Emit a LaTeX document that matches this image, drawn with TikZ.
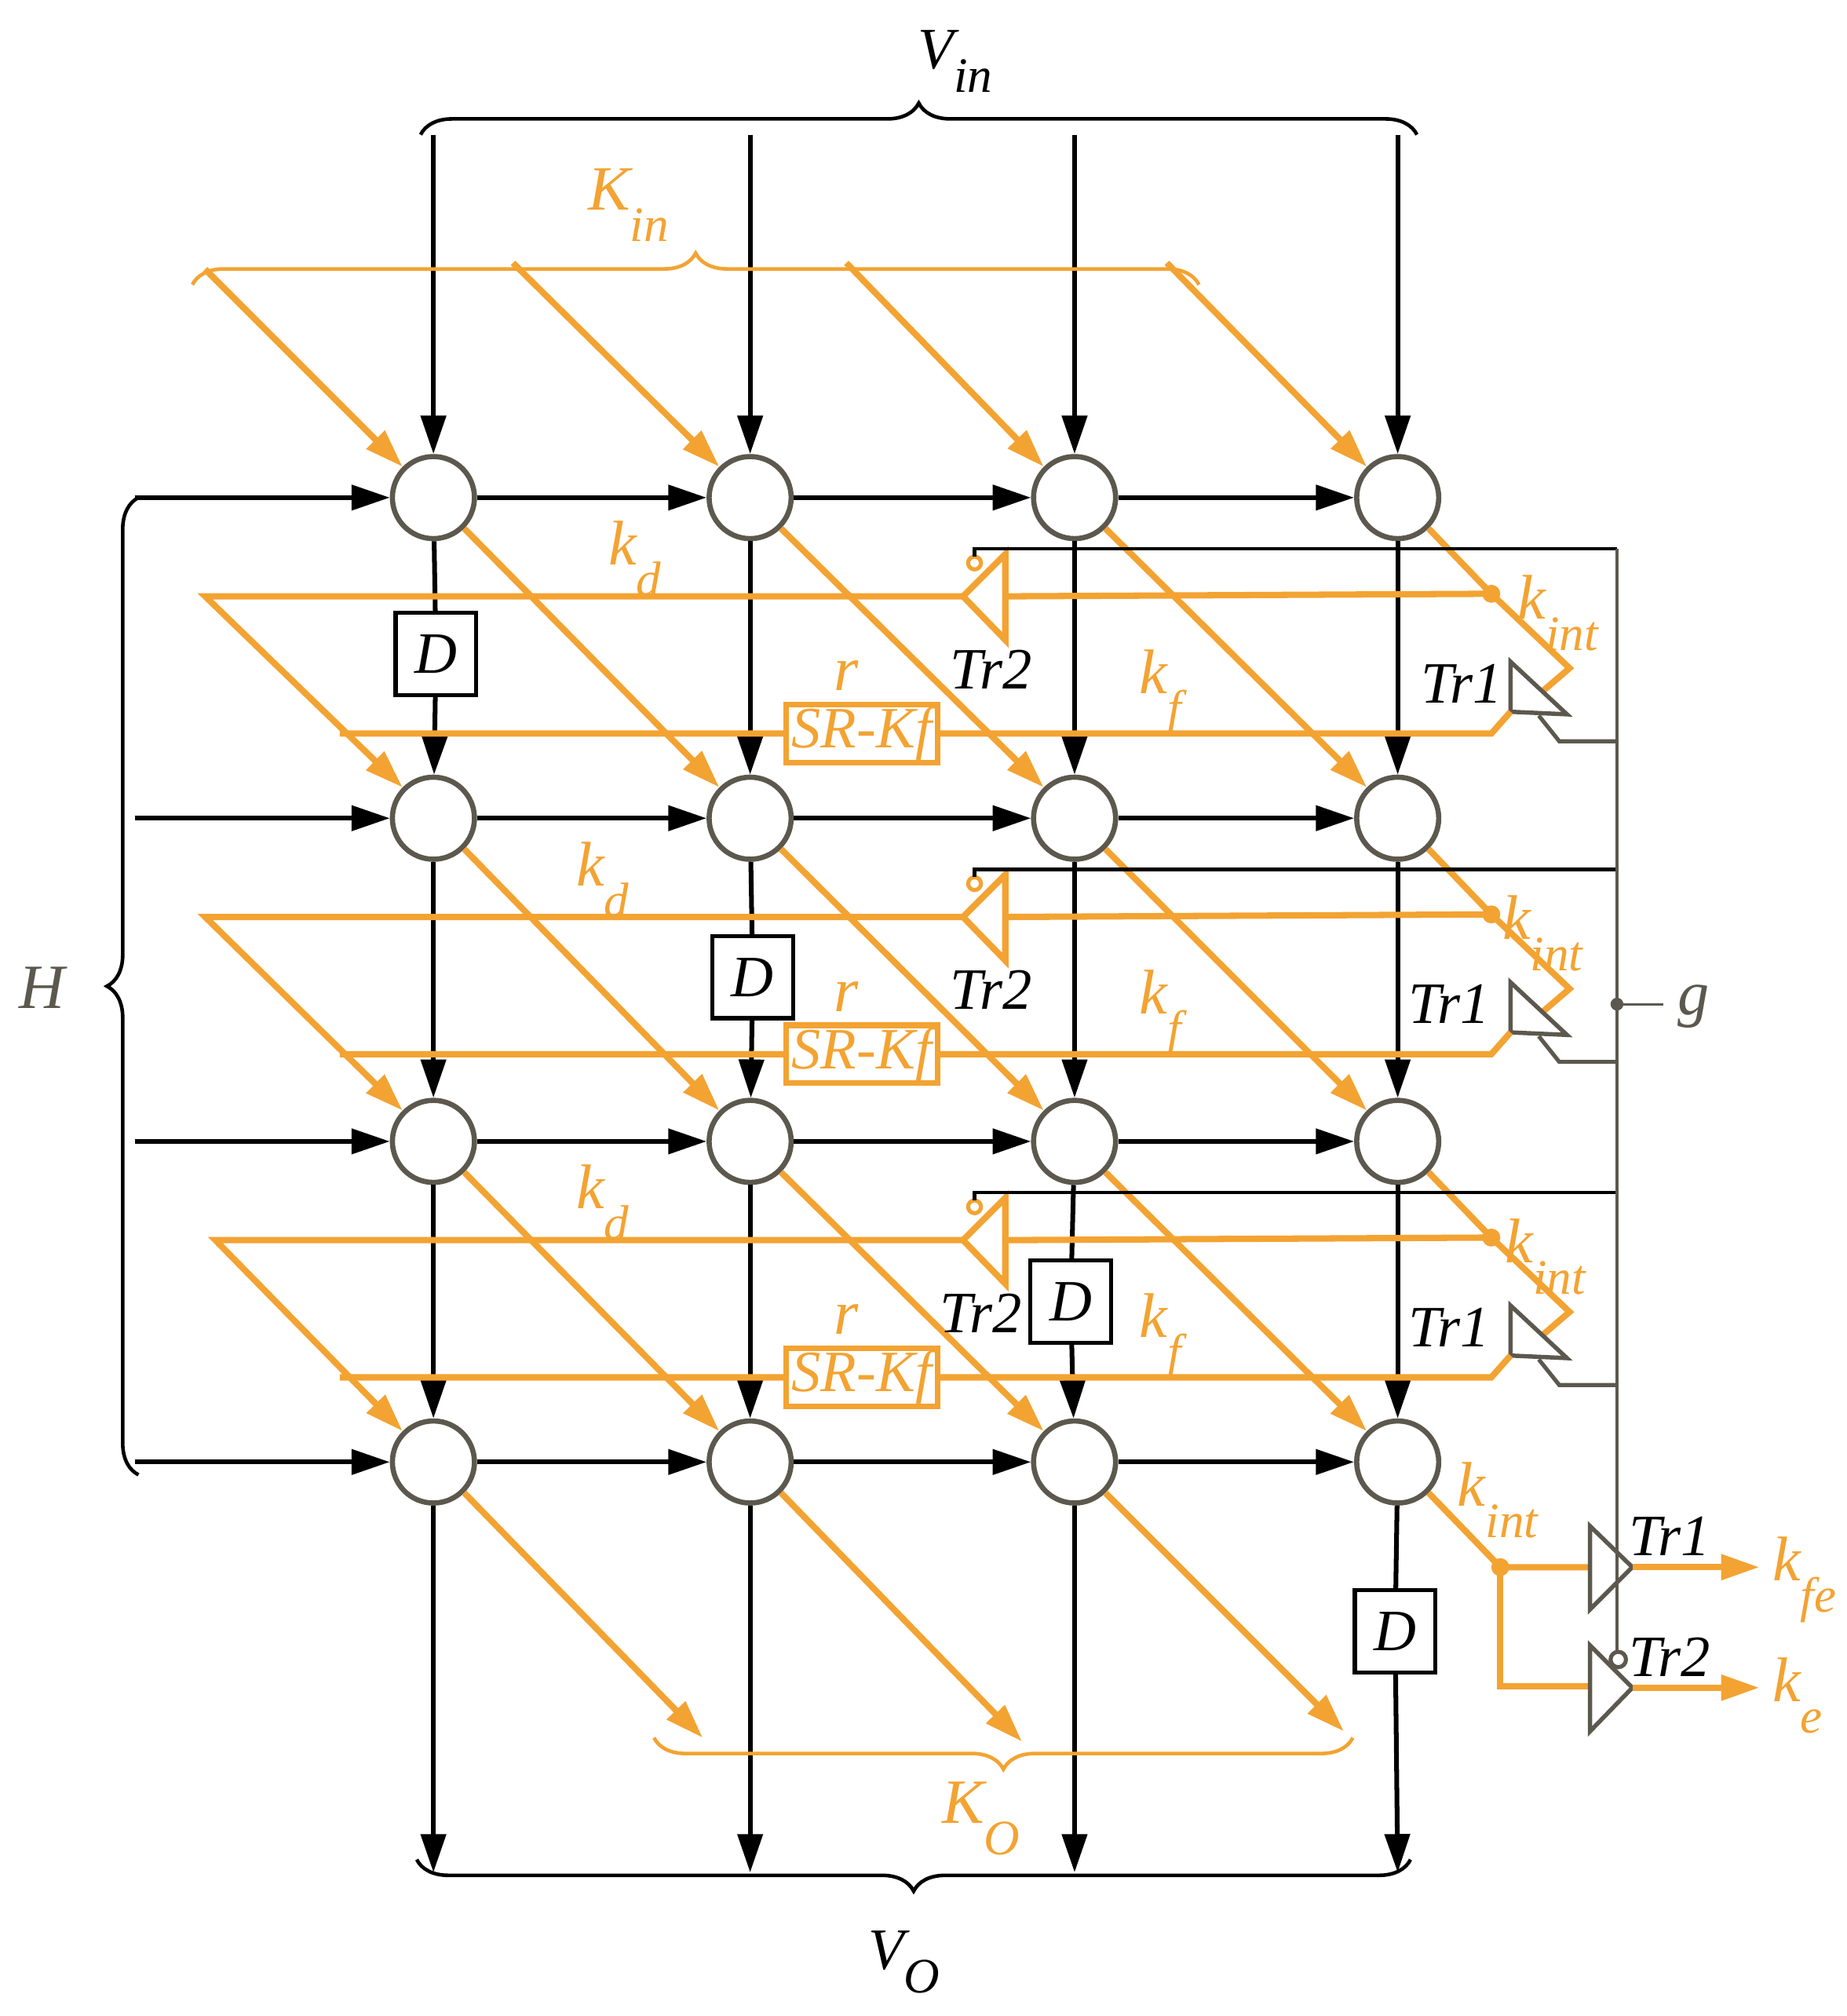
\documentclass[tikz,border=0pt]{standalone}
\usepackage{fontspec}
\setmainfont{Liberation Serif}
\usetikzlibrary{arrows.meta,decorations.pathreplacing}
\definecolor{org}{RGB}{243,163,50}
\definecolor{gry}{RGB}{92,88,78}
\newcommand{\lab}[2]{\itshape #1\raisebox{-0.5em}{\fontsize{22}{22}\selectfont #2}}
\begin{document}
\begin{tikzpicture}[x=0.02cm,y=-0.02cm,
  circ/.style={circle,draw=gry,line width=2.3pt,minimum size=1.28cm,inner sep=0pt},
  blk/.style={line width=2.1pt,black},
  org line/.style={line width=2.8pt,org},
  arr/.style={-{Triangle[length=17pt,width=11pt]}},
  dbox/.style={draw,line width=1.8pt,fill=white,minimum width=1.26cm,minimum height=1.28cm,inner sep=0pt,font=\fontsize{26}{30}\selectfont\itshape},
  srbox/.style={draw=org,line width=2.5pt,fill=white,text=org,minimum width=2.36cm,minimum height=0.9cm,inner sep=0pt,font=\fontsize{26}{30}\selectfont\itshape},
  tri/.style={draw=gry,line width=1.9pt,line join=miter},
  olab/.style={text=org,font=\fontsize{28}{30}\selectfont,inner sep=0pt},
  blab/.style={text=black,font=\fontsize{26}{30}\selectfont\itshape,inner sep=0pt},
  glab/.style={text=gry,font=\fontsize{28}{30}\selectfont,inner sep=0pt},
  ctl/.style={gry,line width=1.1pt},
  brc/.style={decorate,decoration={brace,amplitude=14pt},line width=1.6pt}]
\useasboundingbox (0,0) rectangle (1440,1572);
\def\xa{338}\def\xb{585}\def\xc{838}\def\xd{1090}
% circles
\foreach \r/\y in {1/388,2/638,3/890,4/1140}{
  \foreach \c/\x in {1/\xa,2/\xb,3/\xc,4/\xd}{
    \node[circ] (n\r\c) at (\x,\y) {};
  }
  \coordinate (h\r) at (105,\y);
  \draw[blk,arr] (h\r) -- (n\r1);
  \draw[blk,arr] (n\r1) -- (n\r2);
  \draw[blk,arr] (n\r2) -- (n\r3);
  \draw[blk,arr] (n\r3) -- (n\r4);
}
% D boxes
\node[dbox] (D1) at (340,510) {D};
\node[dbox] (D2) at (587,762) {D};
\node[dbox] (D3) at (835,1015) {D};
\node[dbox] (D4) at (1088,1272) {D};
% vertical inputs/outputs
\foreach \c/\x in {1/\xa,2/\xb,3/\xc,4/\xd}{
  \coordinate (vi\c) at (\x,105);
  \coordinate (vo\c) at (\x,1460);
  \draw[blk,arr] (vi\c) -- (n1\c);
}
\draw[blk] (n11) -- (D1); \draw[blk,arr] (D1) -- (n21);
\draw[blk,arr] (n12) -- (n22);
\draw[blk,arr] (n13) -- (n23);
\draw[blk,arr] (n14) -- (n24);
\draw[blk,arr] (n21) -- (n31);
\draw[blk] (n22) -- (D2); \draw[blk,arr] (D2) -- (n32);
\draw[blk,arr] (n23) -- (n33);
\draw[blk,arr] (n24) -- (n34);
\draw[blk,arr] (n31) -- (n41);
\draw[blk,arr] (n32) -- (n42);
\draw[blk] (n33) -- (D3); \draw[blk,arr] (D3) -- (n43);
\draw[blk,arr] (n34) -- (n44);
\draw[blk,arr] (n41) -- (vo1);
\draw[blk,arr] (n42) -- (vo2);
\draw[blk,arr] (n43) -- (vo3);
\draw[blk] (n44) -- (D4); \draw[blk,arr] (D4) -- (vo4);
% orange input diagonals
\coordinate (ki1) at (160,210); \coordinate (ki2) at (400,205);
\coordinate (ki3) at (660,205); \coordinate (ki4) at (910,205);
\foreach \c in {1,2,3,4}{\draw[org line,arr] (ki\c) -- (n1\c.135);}
% diagonals between circles
\foreach \r/\rn in {1/2,2/3,3/4}{
  \foreach \c/\cn in {1/2,2/3,3/4}{
    \draw[org line,arr] (n\r\c.-45) -- (n\rn\cn.135);
  }
}
% bottom outputs
\coordinate (ko1) at (548,1355); \coordinate (ko2) at (797,1358); \coordinate (ko3) at (1048,1350);
\draw[org line,arr] (n41.-45) -- (ko1);
\draw[org line,arr] (n42.-45) -- (ko2);
\draw[org line,arr] (n43.-45) -- (ko3);
% feedback rows
\foreach \r/\rn/\y/\xs/\kdx/\kix/\tx/\ttx in {1/2/388/160/495/1215/1140/773,2/3/638/160/470/1203/1130/773,3/4/890/168/470/1205/1130/765}{
  \coordinate (dot\r) at (1163,\y+75);
  \draw[org line,line join=miter] (n\r4.-45) -- (dot\r) -- (1224,\y+133) -- (1203,\y+151);
  \fill[org] (dot\r) circle (7);
  \draw[tri] (1178,\y+128) -- (1178,\y+167) -- (1222,\y+169) -- cycle;
  \coordinate (fb\r) at (265,\y+184);
  \draw[org line] (1178,\y+167) -- (1163,\y+184) -- (fb\r);
  \node[srbox] (sr\r) at (672,\y+184) {SR-Kf};
  \coordinate (ts\r) at (\xs,\y+77);
  \draw[org line] (dot\r) -- (784,\y+77);
  \draw[org line,line join=miter] (784,\y+44) -- (784,\y+111) -- (751,\y+77) -- cycle;
  \draw[org line,arr] (751,\y+77) -- (ts\r) -- (n\rn1.135);
  \draw[org,line width=1.8pt] (760,\y+51) circle (5);
  \draw[blk,line width=1.5pt] (760,\y+46) -- (760,\y+40) -- (1261,\y+40);
  \draw[ctl,line width=1.8pt] (1200,\y+170) -- (1216,\y+190) -- (1261,\y+190);
  \node[olab] at (\kdx,\y+48) {\lab{k}{d}};
  \node[blab] at (\ttx,\y+134) {Tr2};
  \node[olab] at (660,\y+139) {\itshape r};
  \node[olab] at (905,\y+152) {\lab{k}{f}};
  \node[olab] at (\kix,\y+90) {\lab{k}{int}};
  \node[blab] at (\tx,\y+145) {Tr1};
}
% control bus
\draw[ctl] (1261,428) -- (1261,1287);
\fill[gry] (1261,783) circle (5);
\coordinate (gend) at (1297,783);
\draw[ctl] (1261,783) -- (gend);
\node[glab,anchor=west] (g) at (1308,785) {\itshape g};
% bottom output stage
\coordinate (dotb) at (1170,1222);
\draw[org line] (n44.-45) -- (dotb) -- (1240,1222);
\fill[org] (dotb) circle (7);
\draw[org line] (dotb) -- (1170,1315) -- (1240,1315);
\draw[tri] (1240,1190) -- (1240,1255) -- (1273,1222) -- cycle;
\draw[tri] (1240,1283) -- (1240,1350) -- (1273,1316) -- cycle;
\draw[gry,line width=1.8pt] (1262,1294) circle (6);
\coordinate (kfe) at (1372,1222); \coordinate (ke) at (1372,1316);
\draw[org line,arr] (1273,1222) -- (kfe);
\draw[org line,arr] (1273,1316) -- (ke);
\node[olab] at (1168,1170) {\lab{k}{int}};
\node[blab] at (1302,1198) {Tr1};
\node[blab] at (1302,1292) {Tr2};
\node[olab,anchor=west] at (1382,1232) {\lab{k}{fe}};
\node[olab,anchor=west] at (1382,1322) {\lab{k}{e}};
% braces
\draw[brc,black] (328,105) -- (1105,105);
\node[blab,text=black] at (745,48) {V\raisebox{-0.4em}{\fontsize{22}{22}\selectfont in}};
\draw[brc,org] (150,222) -- (935,222);
\node[olab] at (490,160) {\lab{K}{in}};
\draw[brc,black] (1100,1450) -- (325,1450);
\node[blab] at (705,1530) {V\raisebox{-0.4em}{\fontsize{22}{22}\selectfont O}};
\draw[brc,org] (1055,1355) -- (510,1355);
\node[olab] at (765,1418) {\lab{K}{O}};
\draw[brc,black] (108,1150) -- (108,388);
\node[glab,text=gry] at (33,770) {\itshape H};
\end{tikzpicture}
\end{document}
